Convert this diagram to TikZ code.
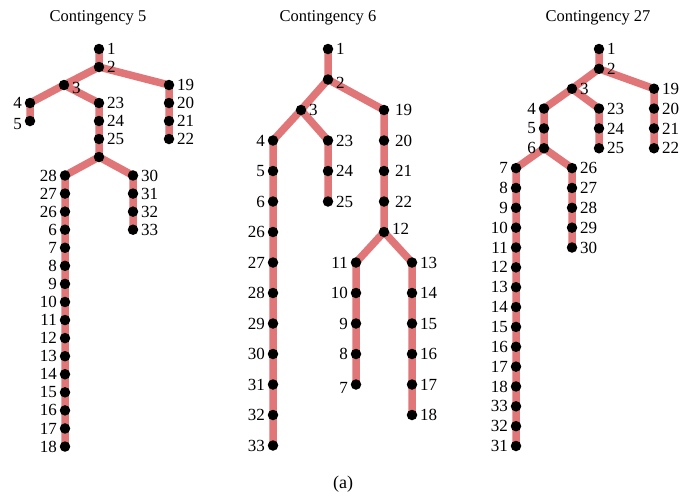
\documentclass[tikz,border=0pt]{standalone}
\usepackage{fontspec}
\setmainfont{Liberation Serif}
\usetikzlibrary{backgrounds}
\definecolor{edgec}{RGB}{225,118,120}
\begin{document}
\begin{tikzpicture}[x=1pt,y=-1pt,
  dot/.style={circle,fill=black,inner sep=0pt,minimum size=10.5pt},
  lbl/.style={font=\fontsize{17}{18}\selectfont,inner sep=2.5pt},
  edge/.style={draw=edgec,line width=7.5pt},
  ttl/.style={font=\fontsize{16.5}{18}\selectfont}]
\useasboundingbox (0,0) rectangle (693,496);

% titles
\node[ttl] (t1) at (98,18) {Contingency 5};
\node[ttl] (t2) at (328,18) {Contingency 6};
\node[ttl] (t3) at (598,18) {Contingency 27};
\node[ttl,font=\fontsize{18}{20}\selectfont] (cap) at (343,484) {(a)};

% ---------- Tree 1 ----------
\node[dot,label={[lbl]right:1}] (a1) at (99,49) {};
\node[dot,label={[lbl]right:2}] (a2) at (99,67) {};
\node[dot,label={[lbl,yshift=-3pt]right:3}] (a3) at (64,85) {};
\node[dot,label={[lbl]left:4}] (a4) at (30,103) {};
\node[dot,label={[lbl,yshift=-3pt]left:5}] (a5) at (30,121) {};
\foreach \n [count=\i from 3] in {23,24,25}
  \node[dot,label={[lbl]right:\n}] (a\n) at (99,{49+18*\i}) {};
\node[dot] (a0) at (99,157) {};
\foreach \n [count=\i from 2] in {19,20,21,22}
  \node[dot,label={[lbl]right:\n}] (a\n) at (169,{49+18*\i}) {};
\foreach \n [count=\i from 7] in {28,27,26,6,7,8,9,10,11,12,13,14,15,16,17,18}
  \node[dot,label={[lbl]left:\n}] (a\n) at (65,{49+18.07*\i}) {};
\foreach \n [count=\i from 7] in {30,31,32,33}
  \node[dot,label={[lbl]right:\n}] (a\n) at (133,{49+18.07*\i}) {};

% ---------- Tree 2 ----------
\node[dot,label={[lbl]right:1}] (b1) at (328,49) {};
\node[dot,label={[lbl,yshift=-3pt]right:2}] (b2) at (328,79.5) {};
\node[dot,label={[lbl]right:3}] (b3) at (301,110) {};
\foreach \n [count=\i from 2] in {19,20,21,22}
  \node[dot,label={[lbl,xshift=3pt]right:\n}] (b\n) at (384,{49+30.5*\i}) {};
\node[dot,label={[lbl,yshift=3pt]right:12}] (b12) at (384,232) {};
\foreach \n [count=\i from 3] in {4,5,6,26,27,28,29,30,31,32,33}
  \node[dot,label={[lbl]left:\n}] (b\n) at (273,{49+30.5*\i}) {};
\foreach \n [count=\i from 3] in {23,24,25}
  \node[dot,label={[lbl]right:\n}] (b\n) at (328,{49+30.5*\i}) {};
\foreach \n [count=\i from 7] in {11,10,9,8}
  \node[dot,label={[lbl]left:\n}] (b\n) at (356,{49+30.5*\i}) {};
\node[dot,label={[lbl,yshift=-3pt]left:7}] (b7) at (356,384.5) {};
\foreach \n [count=\i from 7] in {13,14,15,16,17,18}
  \node[dot,label={[lbl]right:\n}] (b\n) at (412,{49+30.5*\i}) {};

% ---------- Tree 3 ----------
\node[dot,label={[lbl]right:1}] (c1) at (599,49) {};
\node[dot,label={[lbl]right:2}] (c2) at (599,68.85) {};
\node[dot,label={[lbl]right:3}] (c3) at (572,88.7) {};
\foreach \n [count=\i from 2] in {19,20,21,22}
  \node[dot,label={[lbl]right:\n}] (c\n) at (654,{49+19.85*\i}) {};
\foreach \n [count=\i from 3] in {4,5,6}
  \node[dot,label={[lbl]left:\n}] (c\n) at (544,{49+19.85*\i}) {};
\foreach \n [count=\i from 3] in {23,24,25}
  \node[dot,label={[lbl]right:\n}] (c\n) at (599,{49+19.85*\i}) {};
\foreach \n [count=\i from 6] in {7,8,9,10,11,12,13,14,15,16,17,18,33,32,31}
  \node[dot,label={[lbl]left:\n}] (c\n) at (516,{49+19.85*\i}) {};
\foreach \n [count=\i from 6] in {26,27,28,29,30}
  \node[dot,label={[lbl]right:\n}] (c\n) at (572,{49+19.85*\i}) {};

% ---------- edges ----------
\begin{scope}[on background layer]
\draw[edge] (a1.center) -- (a2.center) -- (a3.center) -- (a4.center) -- (a5.center);
\draw[edge] (a2.center) -- (a19.center) -- (a20.center) -- (a21.center) -- (a22.center);
\draw[edge] (a3.center) -- (a23.center) -- (a24.center) -- (a25.center) -- (a0.center);
\draw[edge] (a0.center) -- (a28.center) -- (a18.center);
\draw[edge] (a0.center) -- (a30.center) -- (a33.center);

\draw[edge] (b1.center) -- (b2.center) -- (b3.center) -- (b4.center) -- (b33.center);
\draw[edge] (b3.center) -- (b23.center) -- (b25.center);
\draw[edge] (b2.center) -- (b19.center) -- (b12.center);
\draw[edge] (b12.center) -- (b11.center) -- (b7.center);
\draw[edge] (b12.center) -- (b13.center) -- (b18.center);

\draw[edge] (c1.center) -- (c2.center) -- (c3.center) -- (c4.center) -- (c6.center);
\draw[edge] (c2.center) -- (c19.center) -- (c22.center);
\draw[edge] (c3.center) -- (c23.center) -- (c25.center);
\draw[edge] (c6.center) -- (c7.center) -- (c31.center);
\draw[edge] (c6.center) -- (c26.center) -- (c30.center);
\end{scope}
\end{tikzpicture}
\end{document}
